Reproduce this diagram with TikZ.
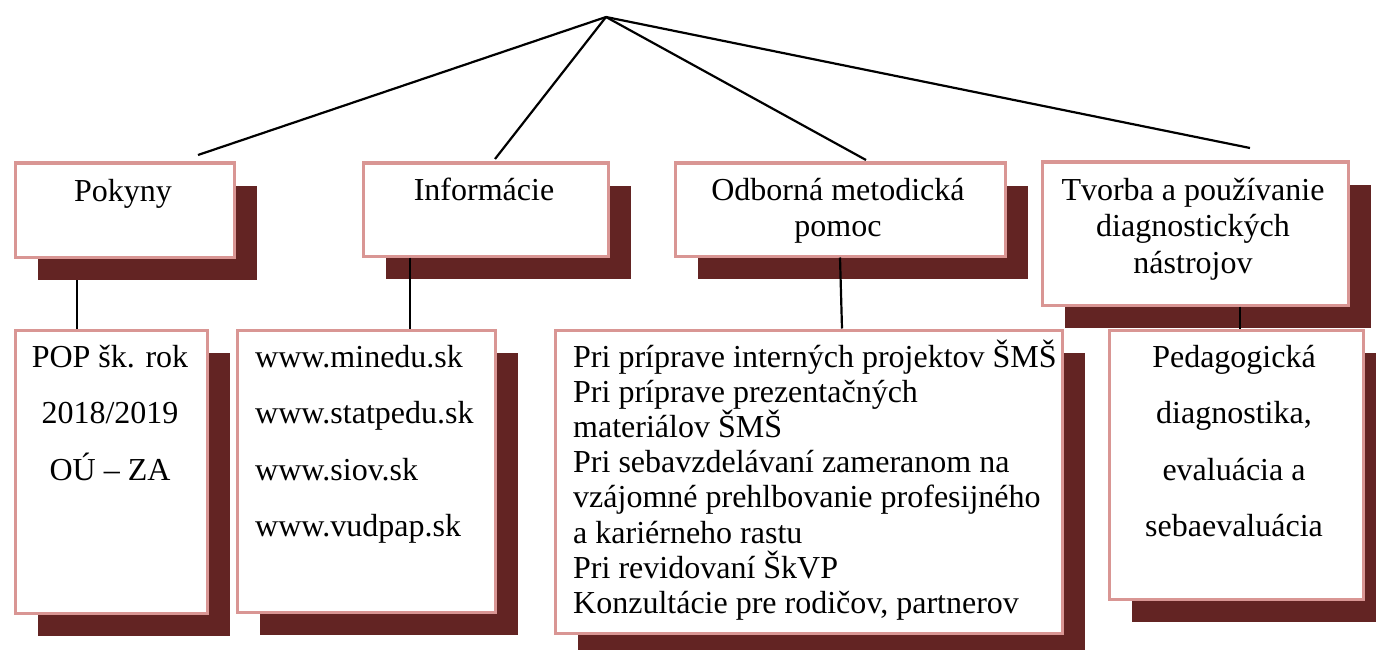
\documentclass[tikz,border=0pt]{standalone}
\usepackage{fontspec}
\setmainfont{Liberation Serif}
\usetikzlibrary{shadows,backgrounds}
\definecolor{cardline}{HTML}{D99694}
\definecolor{cardshade}{HTML}{632423}
\tikzset{
  card/.style={rectangle, draw=cardline, line width=3pt, fill=white, inner sep=0pt, anchor=north west,
    general shadow={fill=cardshade, draw=none, shadow xshift=23pt, shadow yshift=-23pt}},
  link/.style={draw=black, line width=2.2pt},
  txt/.style={inner sep=0pt, font=\fontsize{32}{35}\selectfont}
}
\begin{document}
\begin{tikzpicture}[x=1pt,y=-1pt]
				\useasboundingbox (0,0) rectangle (1376,650);
				% top row
				\node[card, minimum width=219pt, minimum height=94pt] (pok) at (13.5,161.5) {};
				\node[card, minimum width=245pt, minimum height=93pt] (inf) at (361.5,161.5) {};
				\node[card, minimum width=330pt, minimum height=93pt] (odb) at (673.5,161.5) {};
				\node[card, minimum width=306pt, minimum height=143pt] (tvo) at (1040.5,160.5) {};
				% bottom row
				\node[card, minimum width=192pt, minimum height=283pt] (pop) at (13.5,328.5) {};
				\node[card, minimum width=258pt, minimum height=282pt] (web) at (235.5,328.5) {};
				\node[card, minimum width=507pt, minimum height=303pt] (pri) at (553.5,328.5) {};
				\node[card, minimum width=254pt, minimum height=269pt] (ped) at (1107.5,328.5) {};
				% titles
				\node[txt, anchor=base] (pok-t) at (123,201) {Pokyny};
				\node[txt, anchor=base] (inf-t) at (484,200) {Informácie};
				\foreach \t [count=\i] in {Odborná metodická, pomoc}
					\node[txt, anchor=base] (odb-\i) at (838,{200+36*(\i-1)}) {\t};
				\foreach \t [count=\i] in {Tvorba a používanie, diagnostických, nástrojov}
					\node[txt, anchor=base] (tvo-\i) at (1193,{200+36.5*(\i-1)}) {\t};
				% contents
				\foreach \t [count=\i] in {POP šk. rok, 2018/2019, OÚ – ZA}
					\node[txt, anchor=base] (pop-\i) at (110,{367+56.5*(\i-1)}) {\t};
				\foreach \t [count=\i] in {www.minedu.sk, www.statpedu.sk, www.siov.sk, www.vudpap.sk}
					\node[txt, anchor=base west] (web-\i) at (255,{367+56.5*(\i-1)}) {\t};
				\foreach \t [count=\i] in {Pri príprave interných projektov ŠMŠ, Pri príprave prezentačných,
					materiálov ŠMŠ, Pri sebavzdelávaní zameranom na, vzájomné prehlbovanie profesijného,
					a kariérneho rastu, Pri revidovaní ŠkVP, {Konzultácie pre rodičov, partnerov}}
					\node[txt, anchor=base west] (pri-\i) at (573,{367+35.2*(\i-1)}) {\t};
				\foreach \t [count=\i] in {Pedagogická, {diagnostika,}, evaluácia a, sebaevaluácia}
					\node[txt, anchor=base] (ped-\i) at (1234,{367+56.5*(\i-1)}) {\t};
				% connectors
				\coordinate (apex) at (606,17);
				\coordinate (pok-top) at (198,155);
				\coordinate (inf-top) at (495,159);
				\coordinate (odb-top) at (866,160);
				\coordinate (tvo-top) at (1250,148);
				\draw[link] (pok-top) -- (apex);
				\draw[link] (inf-top) -- (apex);
				\draw[link] (odb-top) -- (apex);
				\draw[link] (tvo-top) -- (apex);
				\begin{scope}[on background layer]
				\draw[link] (pok.south -| 77,0) -- (pop.north -| 77,0);
				\end{scope}
				\draw[link] (inf.south -| 410,0) -- (web.north -| 410,0);
				\draw[link] (odb.south -| 840,0) -- (pri.north -| 842,0);
				\draw[link] (tvo.south -| 1240,0) -- (ped.north -| 1240,0);
				\end{tikzpicture}
\end{document}
